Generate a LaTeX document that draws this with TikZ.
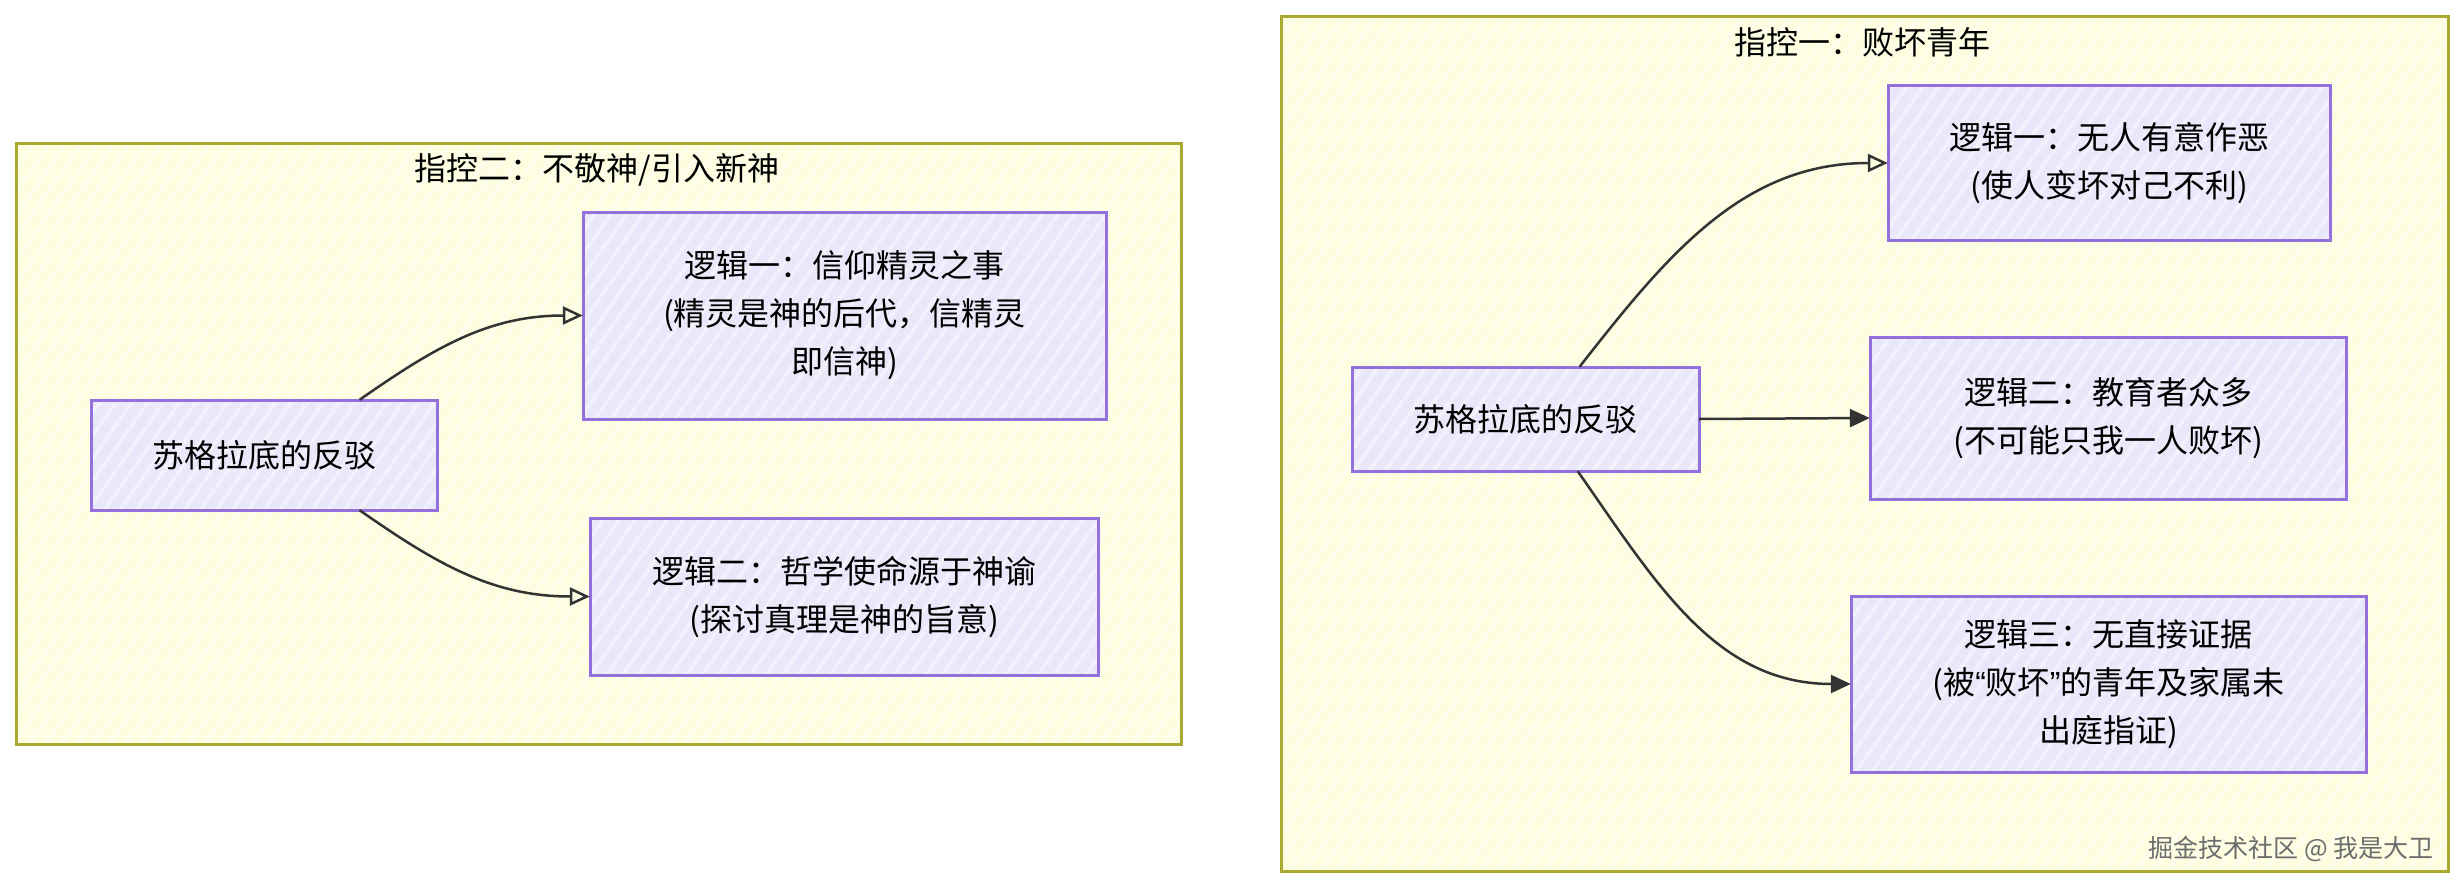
\documentclass[tikz,border=0pt]{standalone}
\usepackage{fontspec}
\setmainfont{Noto Sans CJK SC}
\newfontfamily\quotefont{Liberation Sans}
\usetikzlibrary{arrows.meta,patterns.meta}
\definecolor{clusterFill}{HTML}{FDFDE0}
\definecolor{clusterLine}{HTML}{AAAA33}
\definecolor{nodeFill}{HTML}{E8E8FA}
\definecolor{nodeLine}{HTML}{9370DB}
\definecolor{edgeLine}{HTML}{333333}
\tikzset{
  hatch/.style={postaction={pattern={Lines[angle=55,distance=13pt,line width=4pt]},pattern color=white,opacity=0.45}},
  cluster/.style={fill=clusterFill,hatch,postaction={draw=clusterLine,line width=3pt},inner sep=0pt},
  argument/.style={fill=nodeFill,hatch,postaction={draw=nodeLine,line width=3pt},align=center,inner sep=0pt},
  openhead/.style={-{Triangle[open,length=20pt,width=18pt]},line width=2.5pt,draw=edgeLine},
  fullhead/.style={-{Triangle[length=20pt,width=18pt]},line width=2.5pt,draw=edgeLine}
}

\begin{document}
\begin{tikzpicture}[x=1pt,y=-1pt,font=\fontsize{32}{48}\selectfont]
    \useasboundingbox (0,0) rectangle (2460,888);

    % charge two: impiety
    \node[cluster,minimum width=1165,minimum height=600](chargeTwo) at (598.5,444) {};
    \node(chargeTwoTitle) at (597,170) {指控二：不敬神/引入新神};
    \node[argument,minimum width=346,minimum height=110](replyTwo) at (264,455) {苏格拉底的反驳};
    \node[argument,minimum width=523,minimum height=207](spirits) at (844.5,315.5) {逻辑一：信仰精灵之事\\(精灵是神的后代，信精灵\\即信神)};
    \node[argument,minimum width=508,minimum height=157](oracle) at (844,596.5) {逻辑二：哲学使命源于神谕\\(探讨真理是神的旨意)};

    \draw [openhead] (replyTwo.30) to[out = 35,in = 180] (spirits.west);
    \draw [openhead] (replyTwo.-30) to[out = -35,in = 180] (oracle.west);

    % charge one: corrupting the youth
    \node[cluster,minimum width=1167,minimum height=854](chargeOne) at (1864.5,444) {};
    \node(chargeOneTitle) at (1862,42) {指控一：败坏青年};
    \node[argument,minimum width=347,minimum height=104](replyOne) at (1525.5,419) {苏格拉底的反驳};
    \node[argument,minimum width=442,minimum height=154](noEvil) at (2109,163) {逻辑一：无人有意作恶\\(使人变坏对己不利)};
    \node[argument,minimum width=476,minimum height=162](teachers) at (2108,418) {逻辑二：教育者众多\\(不可能只我一人败坏)};
    \node[argument,minimum width=515,minimum height=176](evidence) at (2108.5,684) {逻辑三：无直接证据\\(被{\quotefont“}败坏{\quotefont”}的青年及家属未\\出庭指证)};

    \draw [openhead] (replyOne.44) to[out = 52,in = 180] (noEvil.west);
    \draw [fullhead] (replyOne.east) -- (teachers.west);
    \draw [fullhead] (replyOne.-45) to[out = -55,in = 180] (evidence.west);

    \node[anchor=east,text=gray!85!black,font=\fontsize{25}{30}\selectfont](mark) at (2437,849) {掘金技术社区 @ 我是大卫};
\end{tikzpicture}
\end{document}
